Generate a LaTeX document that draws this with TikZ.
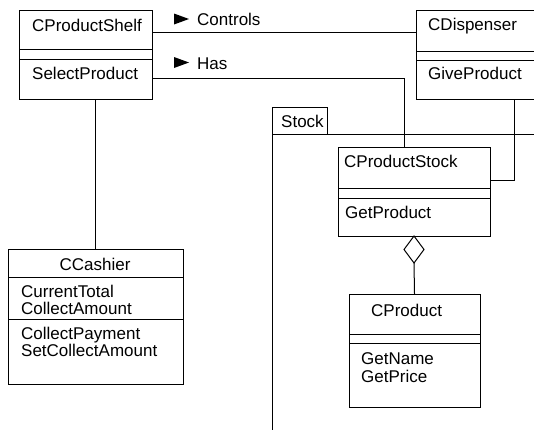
\documentclass[tikz,border=0pt]{standalone}
\usepackage{fontspec}
\setmainfont{Liberation Sans}
\usetikzlibrary{calc}
\begin{document}
\begin{tikzpicture}[x=1pt,y=-1pt,
  box/.style={draw, line width=1pt, rectangle, inner sep=0pt, outer sep=0pt, anchor=north west},
  txt/.style={inner sep=0pt, anchor=base west, font=\fontsize{17}{17}\selectfont},
  conn/.style={line width=1pt},
  sep/.style={line width=1pt}]
\useasboundingbox (0,0) rectangle (534,429);
\clip (0,0) rectangle (534,429);

% class boxes
\node[box, minimum width=133pt, minimum height=89pt] (shelf) at (19,10) {};
\node[box, minimum width=140pt, minimum height=89pt] (disp) at (416,10) {};
\node[box, minimum width=175pt, minimum height=135pt] (cash) at (8,249) {};
\node[box, minimum width=152pt, minimum height=89pt] (stock) at (338,147) {};
\node[box, minimum width=131pt, minimum height=113pt] (prod) at (349,294) {};

% compartment separators
\draw[sep] ($(shelf.north west)+(0,39)$) -- ($(shelf.north east)+(0,39)$);
\draw[sep] ($(shelf.north west)+(0,49)$) -- ($(shelf.north east)+(0,49)$);
\draw[sep] ($(disp.north west)+(0,41)$) -- ($(disp.north east)+(0,41)$);
\draw[sep] ($(disp.north west)+(0,50)$) -- ($(disp.north east)+(0,50)$);
\draw[sep] ($(cash.north west)+(0,28)$) -- ($(cash.north east)+(0,28)$);
\draw[sep] ($(cash.north west)+(0,70)$) -- ($(cash.north east)+(0,70)$);
\draw[sep] ($(stock.north west)+(0,41)$) -- ($(stock.north east)+(0,41)$);
\draw[sep] ($(stock.north west)+(0,51)$) -- ($(stock.north east)+(0,51)$);
\draw[sep] ($(prod.north west)+(0,40)$) -- ($(prod.north east)+(0,40)$);
\draw[sep] ($(prod.north west)+(0,49)$) -- ($(prod.north east)+(0,49)$);

% package Stock
\node[box, minimum width=55pt, minimum height=27pt] (pkg) at (272,107) {};
\coordinate (pkgbottom) at (272,440);
\coordinate (pkgright) at (545,134);
\draw[conn] (pkg.south west) -- (pkgbottom);
\draw[conn] (pkg.south west) -- (pkgright);

% texts
\node[txt] (tshelf) at (32,31) {CProductShelf};
\node[txt] (tsel) at (32,79) {SelectProduct};
\node[txt] (tdisp) at (428,30) {CDispenser};
\node[txt] (tgive) at (428,79) {GiveProduct};
\node[txt] (tpkg) at (281,127) {Stock};
\node[txt] (tstock) at (344,167) {CProductStock};
\node[txt] (tget) at (345,218) {GetProduct};
\node[txt] (tprod) at (371,316) {CProduct};
\node[txt] (tname) at (361,364) {GetName};
\node[txt] (tprice) at (361,382) {GetPrice};
\node[txt, anchor=base] (tcash) at (95,270) {CCashier};
\node[txt] (tcur) at (21,297) {CurrentTotal};
\node[txt] (tcol) at (21,314) {CollectAmount};
\node[txt] (tpay) at (21,339) {CollectPayment};
\node[txt] (tset) at (21,356) {SetCollectAmount};

% association labels with direction triangles
\node[txt] (lctl) at (197,25) {Controls};
\node[txt] (lhas) at (197,69) {Has};
\fill (174,13.5) -- (189,19) -- (174,24.5) -- cycle;
\fill (174,57) -- (189,62.5) -- (174,68) -- cycle;

% connectors
\draw[conn] ([yshift=22.5pt]shelf.east) -- ([yshift=22.5pt]disp.west);
\draw[conn] ([yshift=-23.5pt]shelf.east) -| ([xshift=-10pt]stock.north);
\draw[conn] ([xshift=98pt]disp.south west) |- ([yshift=11.5pt]stock.east);
\draw[conn] (cash.north |- shelf.south) -- (cash.north);

% aggregation diamond
\draw[conn, fill=white] (stock.south) -- ++(10,13.5) -- ++(-10,13.5) -- ++(-10,-13.5) -- cycle;
\coordinate (aggbot) at ($(stock.south)+(0,27)$);
\draw[conn] (aggbot) -- (prod.north);
\end{tikzpicture}
\end{document}
